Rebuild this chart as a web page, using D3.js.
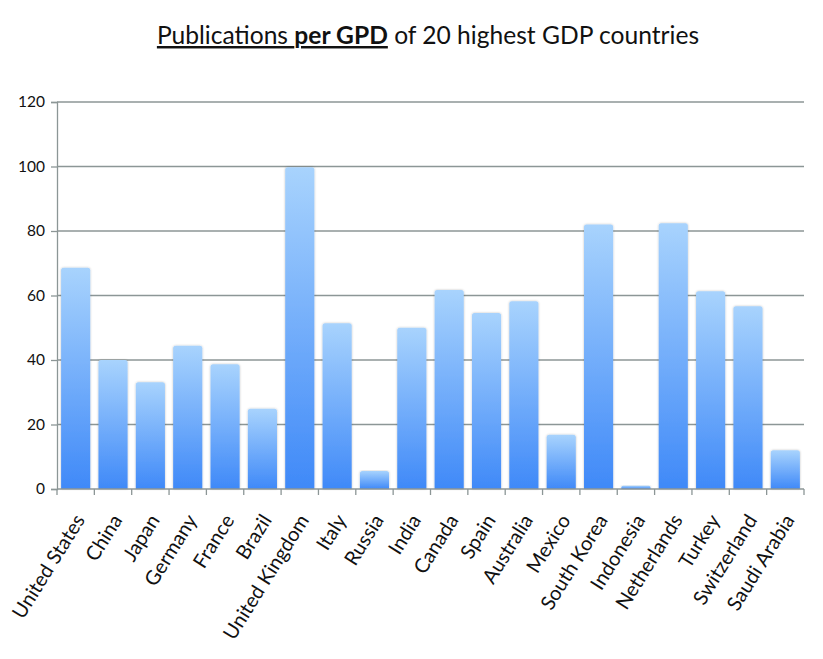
<!DOCTYPE html>
<html>
<head>
<meta charset="utf-8">
<script src="https://cdn.jsdelivr.net/npm/d3@7"></script>
<style>
  html, body { margin: 0; padding: 0; background: #fff; }
  svg { display: block; font-family: Lato, "Open Sans", sans-serif; }
</style>
</head>
<body>
<svg id="chart" width="823" height="659"></svg>
<script>
const categories = ["United States", "China", "Japan", "Germany", "France", "Brazil",
  "United Kingdom", "Italy", "Russia", "India", "Canada", "Spain", "Australia",
  "Mexico", "South Korea", "Indonesia", "Netherlands", "Turkey", "Switzerland", "Saudi Arabia"];
const values = [68.6, 40.0, 33.1, 44.4, 38.7, 24.9, 99.8, 51.4, 5.6, 50.0,
  61.7, 54.6, 58.2, 16.8, 82.0, 1.0, 82.4, 61.3, 56.7, 12.0];
const yTicks = [0, 20, 40, 60, 80, 100, 120];

const svg = d3.select("#chart");
const margin = { left: 57, right: 19, top: 102, bottom: 170 };
const W = 823, H = 659;
const plotBottom = 489;

const x = d3.scaleBand().domain(categories).range([margin.left, W - margin.right])
  .paddingInner(0.22).paddingOuter(0.11);
const xTickScale = d3.scaleBand().domain(categories).range([margin.left, W - margin.right]);
const y = d3.scaleLinear().domain([0, 120]).range([plotBottom, margin.top]);

const defs = svg.append("defs");
const grad = defs.append("linearGradient").attr("id", "barGrad")
  .attr("x1", 0).attr("y1", 0).attr("x2", 0).attr("y2", 1);
grad.append("stop").attr("offset", "0%").attr("stop-color", "#a8d3fd");
grad.append("stop").attr("offset", "100%").attr("stop-color", "#3f89f8");
const sh = defs.append("filter").attr("id", "shadow").attr("x", "-20%").attr("y", "-5%").attr("width", "140%").attr("height", "110%");
sh.append("feDropShadow").attr("dx", 0).attr("dy", 0).attr("stdDeviation", 1.2)
  .attr("flood-color", "#000").attr("flood-opacity", 0.25);

// gridlines
svg.append("g").selectAll("line").data(yTicks.filter(d => d > 0)).join("line")
  .attr("x1", margin.left).attr("x2", W - margin.right)
  .attr("y1", d => y(d)).attr("y2", d => y(d))
  .attr("stroke", "#8c9696").attr("stroke-width", 1.3);

// bars
const r = 2.5;
svg.append("g").selectAll("path").data(categories).join("path")
  .attr("filter", "url(#shadow)")
  .attr("fill", "url(#barGrad)")
  .attr("d", (c, i) => {
    const x0 = x(c), w = x.bandwidth(), y0 = y(values[i]), yb = plotBottom;
    const rr = Math.min(r, (yb - y0) / 2);
    return `M${x0},${yb} L${x0},${y0 + rr} Q${x0},${y0} ${x0 + rr},${y0} L${x0 + w - rr},${y0} Q${x0 + w},${y0} ${x0 + w},${y0 + rr} L${x0 + w},${yb} Z`;
  });

// y axis
const yAxis = d3.axisLeft(y).tickValues(yTicks).tickSize(6).tickPadding(6);
const gy = svg.append("g").attr("transform", `translate(${margin.left},0)`).call(yAxis);
gy.select(".domain").attr("stroke", "#8c9696").attr("stroke-width", 1.3);
gy.selectAll(".tick line").attr("stroke", "#8c9696").attr("stroke-width", 1.3);
gy.selectAll(".tick text").attr("font-size", 15.5).attr("fill", "#111").attr("font-family", "Lato, sans-serif");

// x axis: ticks at band boundaries
const xBoundaries = categories.map(c => xTickScale(c)).concat([W - margin.right]);
const gx = svg.append("g");
gx.append("line").attr("x1", margin.left).attr("x2", W - margin.right)
  .attr("y1", plotBottom).attr("y2", plotBottom).attr("stroke", "#8c9696").attr("stroke-width", 1.3);
gx.selectAll("line.tk").data(xBoundaries).join("line").attr("class", "tk")
  .attr("x1", d => d).attr("x2", d => d).attr("y1", plotBottom).attr("y2", plotBottom + 6)
  .attr("stroke", "#8c9696").attr("stroke-width", 1.3);

const angle = -58;
gx.selectAll("text").data(categories).join("text")
  .attr("transform", c => `translate(${x(c) + x.bandwidth() / 2 + 10},${plotBottom + 31}) rotate(${angle})`)
  .attr("text-anchor", "end")
  .attr("font-size", 20)
  .attr("fill", "#111")
  .text(c => c);

// title
const title = svg.append("text").attr("x", 428).attr("y", 44).attr("text-anchor", "middle")
  .attr("font-size", 24.6).attr("fill", "#111");
title.append("tspan").attr("text-decoration", "underline").text("Publications ");
title.append("tspan").attr("text-decoration", "underline").attr("font-weight", "bold").text("per GPD");
title.append("tspan").text(" of 20 highest GDP countries");
</script>
</body>
</html>
